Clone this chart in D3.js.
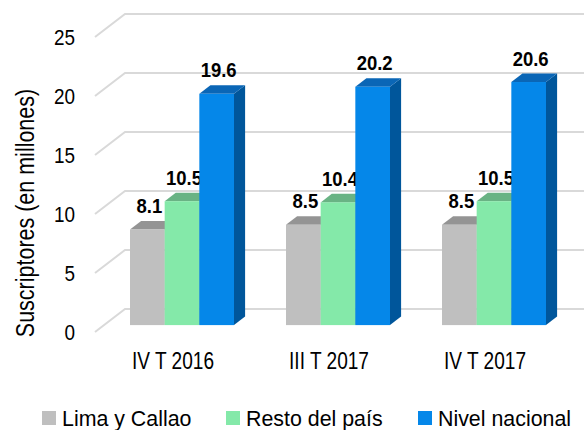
<!DOCTYPE html>
<html><head><meta charset="utf-8">
<script src="https://cdn.jsdelivr.net/npm/d3@7"></script>
<style>body{margin:0;background:#fff}svg{display:block}text{font-family:"Liberation Sans",Arial,sans-serif}</style>
</head><body>
<svg id="c" width="584" height="430"></svg>
<script>
const categories = ["IV T 2016", "III T 2017", "IV T 2017"];
const seriesNames = ["Lima y Callao", "Resto del país", "Nivel nacional"];
const limaCallao = [8.1, 8.5, 8.5];
const restoPais = [10.5, 10.4, 10.5];
const nivelNacional = [19.6, 20.2, 20.6];
const yTicks = [0, 5, 10, 15, 20, 25];

const seriesValues = [limaCallao, restoPais, nivelNacional];
const frontCol = ["#bfbfbf", "#84e9a9", "#0587e9"];
const topCol = ["#949494", "#69b384", "#0a66b6"];
const sideCol = ["#8a8a8a", "#5fa87a", "#00569b"];

const svg = d3.select("#c");
const depthX = 30, depthY = 23;
const y = d3.scaleLinear().domain([0, 25]).range([332, 37]);
const x = d3.scaleBand().domain(categories).range([95, 563]);
const xs = d3.scaleBand().domain(seriesNames).range([26, x.bandwidth() - 26]);

function label(parent, px, py, sx, txt) {
  return parent.append("text").attr("transform", `translate(${px},${py}) scale(${sx},1)`).text(txt);
}

// gridlines
const grid = svg.append("g").attr("stroke", "#d9d9d9").attr("stroke-width", 2).attr("fill", "none");
yTicks.forEach(t => {
  grid.append("path").attr("d", `M95,${y(t)}L${95 + depthX},${y(t) - depthY}L584,${y(t) - depthY}`);
});

// y tick labels
const tg = svg.append("g").attr("font-size", 22).attr("text-anchor", "end").attr("fill", "#000");
yTicks.forEach(t => label(tg, 75, y(t) + 8, 0.86, t));

// y title
svg.append("text").attr("transform", "translate(34,213) rotate(-90) scale(0.86,1)")
  .attr("text-anchor", "middle").attr("font-size", 25).attr("fill", "#000")
  .text("Suscriptores (en millones)");

// bars
const off = 0.3, thick = 0.37;
const ox = depthX * off, oy = depthY * off;
const tx = depthX * thick, ty = depthY * thick;
const bars = svg.append("g");
categories.forEach((c, ci) => {
  seriesNames.forEach((s, si) => {
    const v = seriesValues[si][ci];
    const x0 = x(c) + ox + xs(s), x1 = x0 + xs.bandwidth();
    const yb = y(0) - oy, yt = y(v) - oy;
    const g = bars.append("g");
    g.append("path").attr("fill", sideCol[si])
      .attr("d", `M${x1},${yb}L${x1 + tx},${yb - ty}L${x1 + tx},${yt - ty}L${x1},${yt}Z`);
    g.append("path").attr("fill", topCol[si])
      .attr("d", `M${x0},${yt}L${x0 + tx},${yt - ty}L${x1 + tx},${yt - ty}L${x1},${yt}Z`);
    g.append("rect").attr("fill", frontCol[si])
      .attr("x", x0).attr("y", yt).attr("width", x1 - x0).attr("height", yb - yt);
    label(g, (x0 + x1) / 2 + 2, yt - ty - 8, 0.88, d3.format(".1f")(v))
      .attr("text-anchor", "middle").attr("font-size", 21).attr("font-weight", "bold").attr("fill", "#000");
  });
});

// category labels
const cg = svg.append("g").attr("font-size", 23).attr("text-anchor", "middle").attr("fill", "#000");
categories.forEach(c => label(cg, x(c) + x.bandwidth() / 2, 369, 0.83, c));

// legend
const legX = [42, 226, 418];
const leg = svg.append("g");
seriesNames.forEach((s, i) => {
  leg.append("rect").attr("x", legX[i]).attr("y", 411).attr("width", 14).attr("height", 14).attr("fill", frontCol[i]);
  label(leg, legX[i] + 20, 425.5, 0.93, s).attr("font-size", 23).attr("fill", "#000");
});
</script>
</body></html>
